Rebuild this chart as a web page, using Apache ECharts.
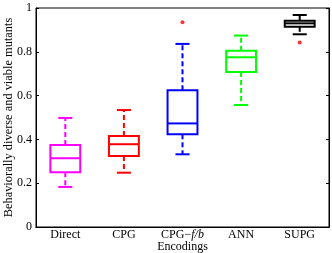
<!DOCTYPE html>
<html><head><meta charset="utf-8">
<script src="https://cdn.jsdelivr.net/npm/echarts@6/dist/echarts.min.js"></script>
<style>html,body{margin:0;padding:0;background:#fff}#c{width:332px;height:253px}</style>
</head><body><div id="c"></div>
<script>
const categories = ['Direct', 'CPG', 'CPG-f/b', 'ANN', 'SUPG'];
const lowWhisker = [0.183, 0.248, 0.332, 0.557, 0.880];
const q1 = [0.250, 0.324, 0.423, 0.708, 0.914];
const median = [0.314, 0.378, 0.473, 0.775, 0.930];
const q3 = [0.374, 0.415, 0.624, 0.805, 0.942];
const highWhisker = [0.498, 0.534, 0.836, 0.874, 0.968];
const outliers = [['CPG-f/b', 0.935], ['SUPG', 0.843]];
const yTicks = [0, 0.2, 0.4, 0.6, 0.8, 1];
const boxColors = ['#ff00ff', '#ff0000', '#0000ff', '#00ff00', '#000000'];

const boxData = categories.map((c, i) => [i, lowWhisker[i], q1[i], median[i], q3[i], highWhisker[i]]);
const font = 'Liberation Serif';

const chart = echarts.init(document.getElementById('c'));
const catAxisBase = {
  type: 'category', data: categories,
  axisLine: {lineStyle: {color: '#000', width: 1}},
  axisTick: {inside: true, alignWithLabel: true, length: 3, lineStyle: {color: '#000'}},
  splitLine: {show: false}
};
const valAxisBase = {
  type: 'value', min: 0, max: 1, interval: 0.2,
  axisLine: {show: true, lineStyle: {color: '#000', width: 1}},
  axisTick: {show: true, inside: true, length: 3, lineStyle: {color: '#000'}},
  splitLine: {show: false}
};
chart.setOption({
  animation: false,
  grid: {left: 36, right: 3, top: 8, bottom: 26, show: true, borderColor: '#000', borderWidth: 1,
    containLabel: false, outerBoundsMode: 'none'},
  xAxis: [
    Object.assign({}, catAxisBase, {
      position: 'bottom',
      name: 'Encodings', nameLocation: 'middle', nameGap: 14, nameMoveOverlap: false,
      nameTextStyle: {fontFamily: font, fontSize: 12, color: '#000'},
      axisLabel: {
        interval: 0, hideOverlap: false,
        fontFamily: font, fontSize: 12, color: '#000', margin: 2,
        formatter: v => v === 'CPG-f/b' ? 'CPG\u2212{i|f/b}' : v,
        rich: {i: {fontFamily: font, fontSize: 12, fontStyle: 'italic', color: '#000'}}
      }
    }),
    Object.assign({}, catAxisBase, {position: 'top', axisLabel: {show: false}})
  ],
  yAxis: [
    Object.assign({}, valAxisBase, {
      position: 'left',
      name: 'Behaviorally diverse and viable mutants', nameLocation: 'middle', nameGap: 21, nameRotate: 90,
      nameMoveOverlap: false,
      nameTextStyle: {fontFamily: font, fontSize: 12.4, color: '#000'},
      axisLabel: {fontFamily: font, fontSize: 12, color: '#000', margin: 4,
        formatter: v => yTicks.includes(+v.toFixed(1)) ? String(+v.toFixed(1)) : ''}
    }),
    Object.assign({}, valAxisBase, {position: 'right', axisLabel: {show: false}})
  ],
  series: [
    {
      type: 'custom', xAxisIndex: 0, yAxisIndex: 0,
      data: boxData,
      renderItem: function (params, api) {
        const idx = api.value(0);
        const band = api.size([1, 0])[0];
        const col = boxColors[idx];
        const pLow = api.coord([idx, api.value(1)]);
        const pQ1 = api.coord([idx, api.value(2)]);
        const pMed = api.coord([idx, api.value(3)]);
        const pQ3 = api.coord([idx, api.value(4)]);
        const pHigh = api.coord([idx, api.value(5)]);
        const x = pMed[0];
        const hw = band * 0.255;
        const cw = band * 0.12;
        const solid = {stroke: col, lineWidth: 2, fill: null};
        const dashed = {stroke: col, lineWidth: 2, lineDash: [5, 3]};
        return {
          type: 'group',
          children: [
            {type: 'line', shape: {x1: x, y1: pQ3[1], x2: x, y2: pHigh[1]}, style: dashed},
            {type: 'line', shape: {x1: x, y1: pQ1[1], x2: x, y2: pLow[1]}, style: dashed},
            {type: 'line', shape: {x1: x - cw, y1: pHigh[1], x2: x + cw, y2: pHigh[1]}, style: solid},
            {type: 'line', shape: {x1: x - cw, y1: pLow[1], x2: x + cw, y2: pLow[1]}, style: solid},
            {type: 'rect', shape: {x: x - hw, y: pQ3[1], width: 2 * hw, height: pQ1[1] - pQ3[1]}, style: solid},
            {type: 'line', shape: {x1: x - hw, y1: pMed[1], x2: x + hw, y2: pMed[1]}, style: solid}
          ]
        };
      }
    },
    {
      type: 'scatter', xAxisIndex: 0, yAxisIndex: 0,
      data: outliers, symbolSize: 4, itemStyle: {color: '#ff0000'}
    }
  ]
});
</script>
</body></html>
